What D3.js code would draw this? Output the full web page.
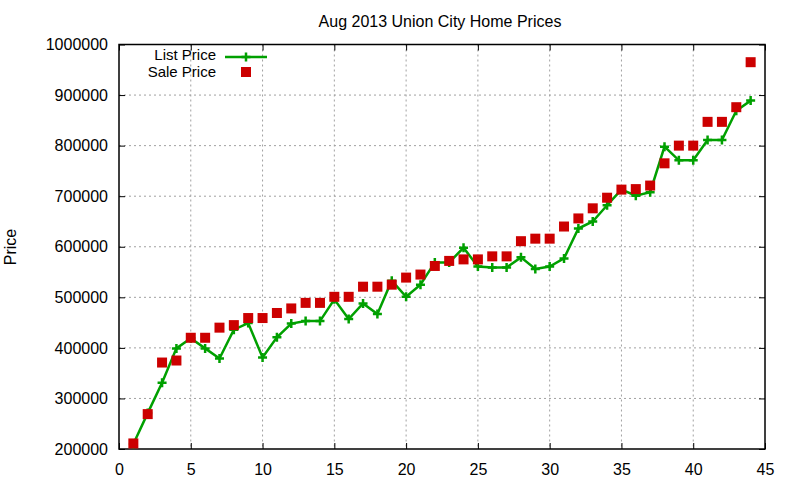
<!DOCTYPE html>
<html><head><meta charset="utf-8">
<script src="https://cdn.jsdelivr.net/npm/d3@7"></script>
<style>body{margin:0;background:#fff}svg{display:block}text{font-family:"Liberation Sans",Arial,sans-serif;fill:#000}</style>
</head><body><svg id="c" width="800" height="480"></svg>
<script>
const months = d3.range(1, 45);
const listPrice = [210000,271000,331000,399000,419000,399000,379000,436000,449000,381000,421000,448000,453000,453000,496000,457000,488000,467000,533000,501000,525000,569000,569000,598000,561000,559000,559000,579000,556000,561000,577000,636000,650000,682000,713000,701000,708000,798000,771000,771000,811000,811000,869000,889000];
const salePrice = [211000,269000,371000,375000,420000,420000,440000,445000,459000,459000,469000,478000,489000,489000,501000,501000,521000,521000,525000,539000,545000,562000,572000,575000,575000,581000,581000,611000,616000,616000,640000,656000,676000,697000,713000,714000,721000,765000,800000,800000,847000,847000,876000,965000];
const xTicks = [0,5,10,15,20,25,30,35,40,45];
const yTicks = [200000,300000,400000,500000,600000,700000,800000,900000,1000000];

const L=119,R=765,T=44.5,B=449;
const svg=d3.select("#c");
const x=d3.scaleLinear().domain([0,45]).range([L,R]);
const y=d3.scaleLinear().domain([200000,1000000]).range([B,T]);

// grid
const g=svg.append("g");
g.selectAll(".gx").data(xTicks.slice(1,-1)).join("line")
 .attr("x1",d=>x(d)).attr("x2",d=>x(d)).attr("y1",T).attr("y2",B)
 .attr("stroke","#a0a0a0").attr("stroke-dasharray","2,3").attr("stroke-width",1);
g.selectAll(".gy").data(yTicks.slice(1,-1)).join("line")
 .attr("y1",d=>y(d)).attr("y2",d=>y(d)).attr("x1",L).attr("x2",R)
 .attr("stroke","#a0a0a0").attr("stroke-dasharray","2,3").attr("stroke-width",1);

// axes with inward ticks
const tk=6;
svg.append("g").attr("transform",`translate(0,${B})`)
 .call(d3.axisBottom(x).tickValues(xTicks).tickSize(-tk).tickPadding(15).tickFormat(d3.format("d")))
 .call(a=>{a.select(".domain").remove();a.selectAll("text").attr("font-size",16).attr("font-family","Liberation Sans, Arial, sans-serif");});
svg.append("g").attr("transform",`translate(0,${T})`)
 .call(d3.axisTop(x).tickValues(xTicks).tickSize(-tk).tickFormat(""))
 .call(a=>a.select(".domain").remove());
svg.append("g").attr("transform",`translate(${L},0)`)
 .call(d3.axisLeft(y).tickValues(yTicks).tickSize(-tk).tickPadding(11).tickFormat(d3.format("d")))
 .call(a=>{a.select(".domain").remove();a.selectAll("text").attr("font-size",16).attr("font-family","Liberation Sans, Arial, sans-serif");});
svg.append("g").attr("transform",`translate(${R},0)`)
 .call(d3.axisRight(y).tickValues(yTicks).tickSize(-tk).tickFormat(""))
 .call(a=>a.select(".domain").remove());
svg.selectAll(".tick line").attr("stroke","#000");
svg.append("rect").attr("x",L).attr("y",T).attr("width",R-L).attr("height",B-T)
 .attr("fill","none").attr("stroke","#000").attr("stroke-width",1.5);

// list price line
const green="#00a000", red="#cc0000";
const line=d3.line().x((d,i)=>x(months[i])).y(d=>y(d));
svg.append("path").datum(listPrice).attr("d",line).attr("fill","none").attr("stroke",green).attr("stroke-width",2.5);
const cs=4.5;
const cross=(px,py)=>`M${px-cs},${py}H${px+cs}M${px},${py-cs}V${py+cs}`;
svg.append("g").selectAll("path").data(listPrice).join("path")
 .attr("d",(d,i)=>cross(x(months[i]),y(d))).attr("stroke",green).attr("stroke-width",2.5).attr("fill","none");

// sale price squares
const sq=10;
svg.append("g").selectAll("rect").data(salePrice).join("rect")
 .attr("x",(d,i)=>x(months[i])-sq/2).attr("y",d=>y(d)-sq/2).attr("width",sq).attr("height",sq).attr("fill",red);

// title
svg.append("text").attr("x",440).attr("y",27).attr("text-anchor","middle").attr("font-size",16).text("Aug 2013 Union City Home Prices");
svg.append("text").attr("transform","translate(16,247) rotate(-90)").attr("text-anchor","middle").attr("font-size",16).text("Price");

// legend
svg.append("text").attr("x",216).attr("y",60).attr("text-anchor","end").attr("font-size",15).text("List Price");
svg.append("line").attr("x1",225).attr("x2",267).attr("y1",57).attr("y2",57).attr("stroke",green).attr("stroke-width",2.5);
svg.append("path").attr("d",cross(246,57)).attr("stroke",green).attr("stroke-width",2.5);
svg.append("text").attr("x",216).attr("y",77).attr("text-anchor","end").attr("font-size",15).text("Sale Price");
svg.append("rect").attr("x",246-sq/2).attr("y",72-sq/2).attr("width",sq).attr("height",sq).attr("fill",red);
</script></body></html>
